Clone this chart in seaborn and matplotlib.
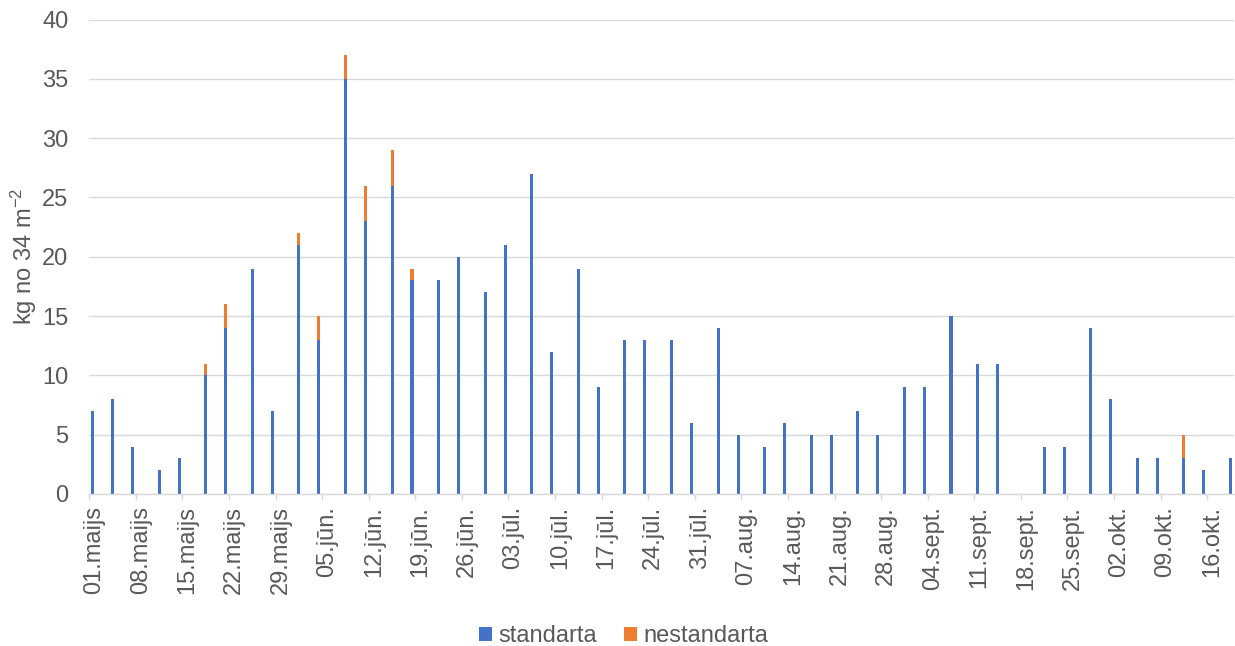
import numpy as np
import pandas as pd
import matplotlib
matplotlib.use("Agg")
import matplotlib.pyplot as plt
import matplotlib.dates as mdates
import matplotlib.transforms as mtransforms
from matplotlib.patches import Patch
import seaborn as sns

# ---------------- data ----------------
dates = ["2023-05-01", "2023-05-04", "2023-05-07", "2023-05-11", "2023-05-14",
         "2023-05-18", "2023-05-21", "2023-05-25", "2023-05-28", "2023-06-01",
         "2023-06-04", "2023-06-08", "2023-06-11", "2023-06-15", "2023-06-18",
         "2023-06-22", "2023-06-25", "2023-06-29", "2023-07-02", "2023-07-06",
         "2023-07-09", "2023-07-13", "2023-07-16", "2023-07-20", "2023-07-23",
         "2023-07-27", "2023-07-30", "2023-08-03", "2023-08-06", "2023-08-10",
         "2023-08-13", "2023-08-17", "2023-08-20", "2023-08-24", "2023-08-27",
         "2023-08-31", "2023-09-03", "2023-09-07", "2023-09-11", "2023-09-14",
         "2023-09-21", "2023-09-24", "2023-09-28", "2023-10-01", "2023-10-05",
         "2023-10-08", "2023-10-12", "2023-10-15", "2023-10-19"]

standarta = [7, 8, 4, 2, 3, 10, 14, 19, 7, 21,
             13, 35, 23, 26, 18, 18, 20, 17, 21, 27,
             12, 19, 9, 13, 13, 13, 6, 14, 5, 4,
             6, 5, 5, 7, 5, 9, 9, 15, 11, 11,
             4, 4, 14, 8, 3, 3, 3, 2, 3]

nestandarta = [0, 0, 0, 0, 0, 1, 2, 0, 0, 1,
               2, 2, 3, 3, 1, 0, 0, 0, 0, 0,
               0, 0, 0, 0, 0, 0, 0, 0, 0, 0,
               0, 0, 0, 0, 0, 0, 0, 0, 0, 0,
               0, 0, 0, 0, 0, 0, 2, 0, 0]

series_names = ["standarta", "nestandarta"]
series_colors = ["#4472C4", "#ED7D31"]

tick_labels = ["01.maijs", "08.maijs", "15.maijs", "22.maijs", "29.maijs",
               "05.jūn.", "12.jūn.", "19.jūn.", "26.jūn.", "03.jūl.",
               "10.jūl.", "17.jūl.", "24.jūl.", "31.jūl.", "07.aug.",
               "14.aug.", "21.aug.", "28.aug.", "04.sept.", "11.sept.",
               "18.sept.", "25.sept.", "02.okt.", "09.okt.", "16.okt."]

y_label = "kg no 34 m$^{-2}$"
axis_start = "2023-05-01"
axis_end = "2023-10-20"

# ---------------- style ----------------
sns.set_theme(style="white")
plt.rcParams["font.family"] = ["Liberation Sans", "DejaVu Sans"]
plt.rcParams["mathtext.default"] = "regular"
TEXT = "#595959"
GRID = "#D9D9D9"
FS = 17

d = pd.to_datetime(dates)
df = pd.concat([
    pd.DataFrame({"date": d, "kg": standarta, "veids": series_names[0]}),
    pd.DataFrame({"date": d, "kg": nestandarta, "veids": series_names[1]}),
], ignore_index=True)

start = pd.Timestamp(axis_start)
end = pd.Timestamp(axis_end)

fig = plt.figure(figsize=(12.35, 6.46), dpi=100)
ax = fig.add_axes([0.0723, 0.2353, 0.9267, 0.7345])

palette = dict(zip(series_names, series_colors))
sns.histplot(data=df, x="date", weights="kg", hue="veids",
             hue_order=[series_names[1], series_names[0]],
             multiple="stack", binwidth=1,
             binrange=(mdates.date2num(start), mdates.date2num(end)),
             shrink=0.46, palette=palette, alpha=1, linewidth=0,
             legend=False, ax=ax)

ax.set_xlim(start, end)
ax.set_ylim(0, 40)
ax.set_yticks(range(0, 41, 5))
tick_dates = pd.date_range(start, periods=len(tick_labels), freq="7D")
ax.set_xticks(tick_dates)
ax.set_xticklabels(tick_labels)
ax.set_xlabel("")
ax.set_ylabel(y_label, fontsize=FS, color=TEXT)
ax.yaxis.set_label_coords(-0.044, 0.5)

ax.set_axisbelow(True)
ax.yaxis.grid(True, color=GRID, linewidth=1.0)
ax.xaxis.grid(False)
for s in ["top", "right", "left"]:
    ax.spines[s].set_visible(False)
ax.spines["bottom"].set_color(GRID)
ax.spines["bottom"].set_linewidth(1.0)

ax.tick_params(axis="x", bottom=True, length=4.5, width=1.0, color=GRID,
               pad=4, labelsize=FS, labelcolor=TEXT, labelrotation=90)
ax.tick_params(axis="y", left=False, length=0, pad=15, labelsize=FS,
               labelcolor=TEXT)

offset = mtransforms.ScaledTranslation(0.05, 0, fig.dpi_scale_trans)
for lab in ax.get_xticklabels():
    lab.set_transform(lab.get_transform() + offset)

handles = [Patch(facecolor=c, edgecolor="none", label=n)
           for n, c in zip(series_names, series_colors)]
fig.legend(handles=handles, loc="center", bbox_to_anchor=(0.505, 0.0155),
           ncol=2, frameon=False, fontsize=FS, labelcolor=TEXT,
           handlelength=0.55, handleheight=0.55, handletextpad=0.25,
           columnspacing=1.15, borderpad=0)

fig.savefig("out.png", dpi=100)
